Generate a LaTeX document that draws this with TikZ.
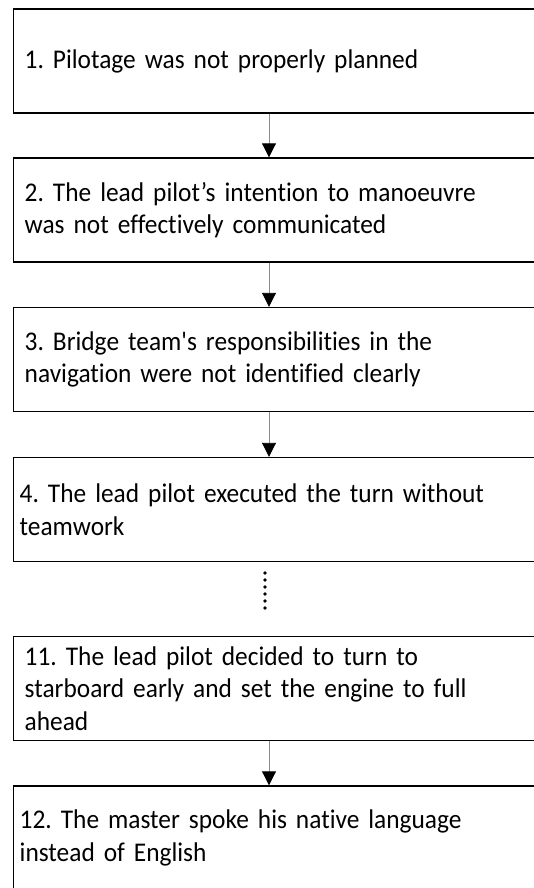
\documentclass[tikz,border=0pt]{standalone}
\usepackage{fontspec}
\newfontfamily\boxfont{Carlito}[Ligatures={NoCommon},FakeStretch=0.94]
\usetikzlibrary{arrows.meta}
\newcommand\boxtext{\boxfont\fontsize{27}{32.5}\selectfont\frenchspacing
  \spaceskip=0.226em\relax\xspaceskip=0.226em\relax}
\tikzset{
  stepbox/.style={draw=black, line width=1.4pt, rectangle, anchor=west,
    minimum height=104pt, inner xsep=11pt, inner ysep=0pt, text width=512pt,
    align=left, font=\boxtext},
  tightpad/.style={inner xsep=6pt, text width=522pt},
  link/.style={draw=black!45, line width=0.9pt,
    -{Triangle[width=14pt,length=14pt,color=black]}},
  dotmark/.style={fill=black}
}
\begin{document}
\begin{tikzpicture}[x=1pt,y=-1pt]
  \useasboundingbox (0,0) rectangle (534,888);
  \fill[white] (0,0) rectangle (534,888);
  \clip (0,0) rectangle (534,888);

  % step boxes
  \node[stepbox] (b1) at (13,61) {1. Pilotage was not properly planned};
  \node[stepbox] (b2) at (13,210) {2. The lead pilot’s intention to manoeuvre\\was not effectively communicated};
  \node[stepbox] (b3) at (13,359.5) {3. Bridge team's responsibilities in the\\navigation were not identified clearly};
  \node[stepbox,tightpad] (b4) at (13,509.5) {4. The lead pilot executed the turn without\\teamwork};
  \node[stepbox] (b11) at (13,688.5) {11. The lead pilot decided to turn to\\starboard early and set the engine to full\\ahead};
  \node[stepbox,tightpad] (b12) at (13,838) {12. The master spoke his native language\\instead of English};

  % connectors
  \coordinate (ax) at (269,0);
  \draw[link] (b1.south -| ax) -- (b2.north -| ax);
  \draw[link] (b2.south -| ax) -- (b3.north -| ax);
  \draw[link] (b3.south -| ax) -- (b4.north -| ax);
  \draw[link] (b11.south -| ax) -- (b12.north -| ax);

  % omitted steps
  \foreach \yy in {573,580,587,594,601,608}
    \fill[dotmark] (265,\yy) circle (1.8);
\end{tikzpicture}
\end{document}
